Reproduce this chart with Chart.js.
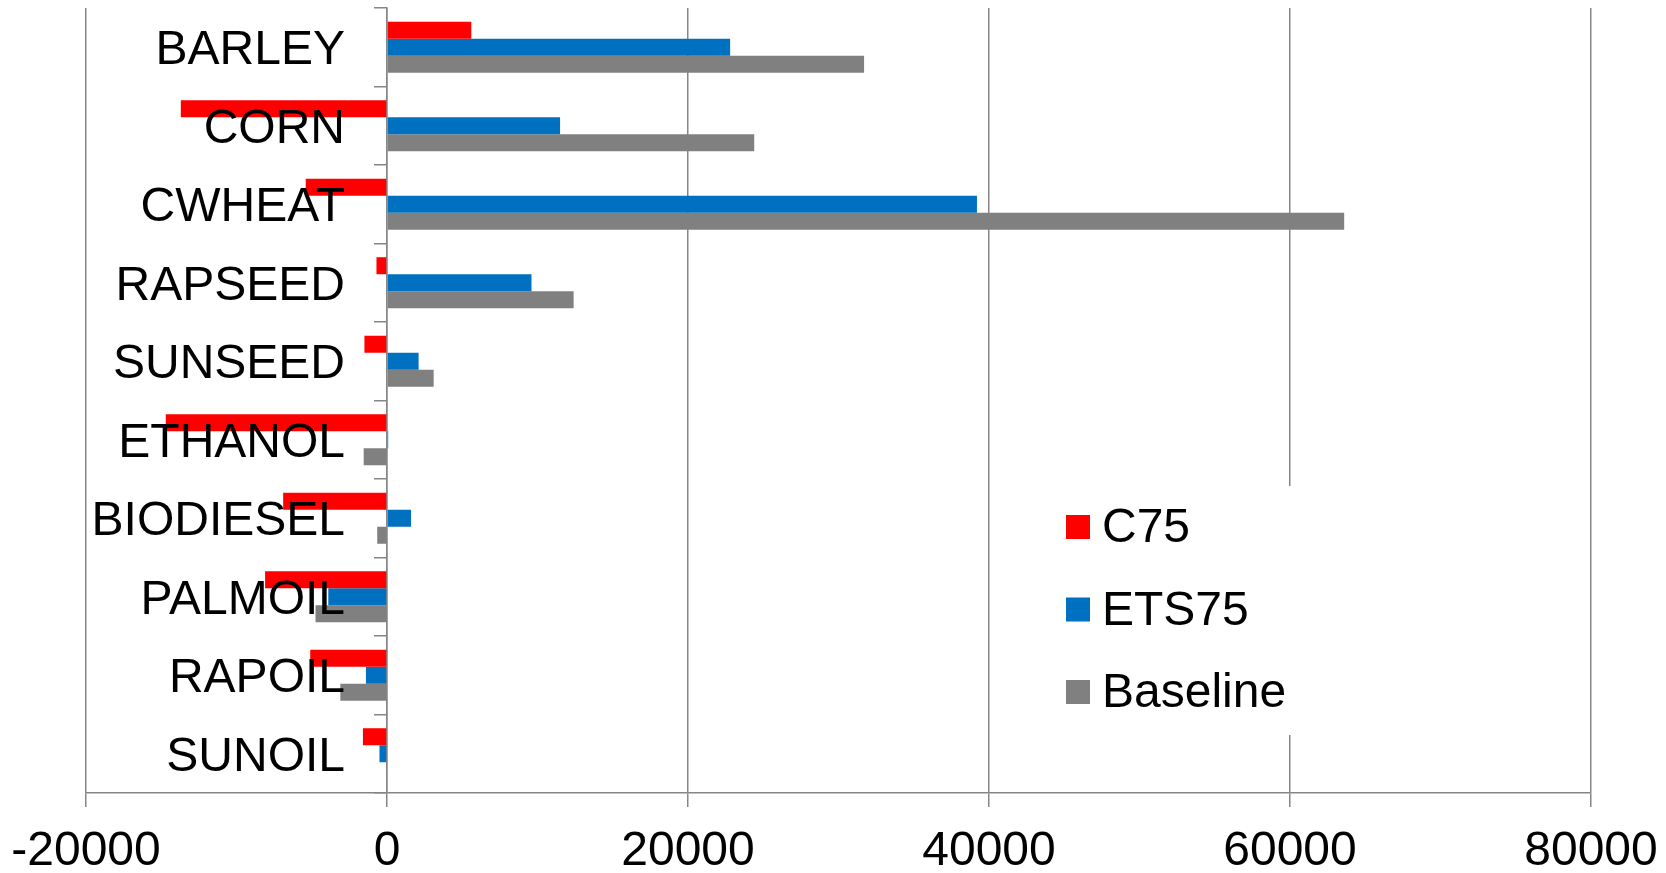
<!DOCTYPE html>
<html>
<head>
<meta charset="utf-8">
<script src="https://cdn.jsdelivr.net/npm/chart.js@4.4.1/dist/chart.umd.min.js"></script>
<style>
  html, body { margin: 0; padding: 0; background: #fff; }
  #wrap { width: 1666px; height: 873px; position: relative; }
</style>
</head>
<body>
<div id="wrap"><canvas id="cropChart"></canvas></div>
<script>
const categories = ['BARLEY', 'CORN', 'CWHEAT', 'RAPSEED', 'SUNSEED', 'ETHANOL', 'BIODIESEL', 'PALMOIL', 'RAPOIL', 'SUNOIL'];
const c75 = [5600, -13700, -5400, -700, -1500, -14700, -6900, -8100, -5100, -1600];
const ets75 = [22800, 11500, 39200, 9600, 2100, 80, 1600, -3900, -1400, -500];
const baseline = [31700, 24400, 63600, 12400, 3100, -1550, -650, -4750, -3100, 0];
const xTicks = [-20000, 0, 20000, 40000, 60000, 80000];

const FONT = { family: '"Liberation Sans", Arial, sans-serif', size: 48 };
const GRID = '#868686';

// category axis sits on x = 0 (Excel style), labels to its left
const axisAtZero = {
    id: 'axisAtZero',
    afterLayout(chart) {
        const y = chart.scales.y;
        const px = chart.scales.x.getPixelForValue(0);
        y.left = 0;
        y.right = px;
        y.width = px;
    }
};

// legend floats inside the plot, on a white box over the gridlines
const floatingLegend = {
    id: 'floatingLegend',
    afterDatasetsDraw(chart, args, opts) {
        const ctx = chart.ctx;
        ctx.save();
        ctx.fillStyle = '#fff';
        ctx.fillRect(opts.left, opts.top, opts.width, opts.height);
        ctx.font = FONT.size + 'px ' + FONT.family;
        ctx.textBaseline = 'middle';
        ctx.textAlign = 'left';
        chart.data.datasets.forEach((ds, i) => {
            const cy = opts.top + opts.firstRow + i * opts.rowGap;
            ctx.fillStyle = ds.backgroundColor;
            ctx.fillRect(opts.left + opts.boxX, cy - 12, 24, 24);
            ctx.fillStyle = '#000';
            ctx.fillText(ds.label, opts.left + opts.textX, cy + 2);
        });
        ctx.restore();
    }
};

function initializeChart() {
    const ctx = document.getElementById('cropChart').getContext('2d');
    new Chart(ctx, {
        type: 'bar',
        data: {
            labels: categories,
            datasets: [{
                label: 'C75',
                data: c75,
                backgroundColor: '#FF0000'
            }, {
                label: 'ETS75',
                data: ets75,
                backgroundColor: '#0070C0'
            }, {
                label: 'Baseline',
                data: baseline,
                backgroundColor: '#808080'
            }]
        },
        plugins: [axisAtZero, floatingLegend],
        options: {
            indexAxis: 'y',
            responsive: true,
            maintainAspectRatio: false,
            animation: false,
            categoryPercentage: 0.65,
            barPercentage: 1.0,
            layout: { padding: { left: 86, right: 75, top: 8, bottom: 0 } },
            plugins: {
                legend: { display: false },
                tooltip: { enabled: false },
                floatingLegend: {
                    left: 1050, top: 486, width: 250, height: 249,
                    boxX: 16, textX: 52, firstRow: 41, rowGap: 82.5
                }
            },
            scales: {
                x: {
                    min: xTicks[0],
                    max: xTicks[xTicks.length - 1],
                    afterBuildTicks: (scale) => {
                        scale.ticks = xTicks.map(v => ({ value: v }));
                    },
                    afterFit: (scale) => {
                        scale.height = 80;
                        scale.paddingLeft = 0;
                        scale.paddingRight = 0;
                    },
                    grid: { color: GRID, lineWidth: 1.5, tickLength: 14 },
                    border: { color: GRID, width: 1.5 },
                    ticks: {
                        font: FONT,
                        color: '#000',
                        padding: 16,
                        maxRotation: 0,
                        autoSkip: false,
                        callback: (v) => String(v)
                    }
                },
                y: {
                    position: 'left',
                    afterFit: (scale) => {
                        scale.width = 0;
                        scale.paddingTop = 0;
                        scale.paddingBottom = 0;
                    },
                    grid: { drawOnChartArea: false, tickLength: 13, color: GRID, lineWidth: 1.5 },
                    border: { color: GRID, width: 1.5 },
                    // z: 1 -> labels are painted over the bars, as in the original
                    ticks: { font: FONT, color: '#000', padding: 29, labelOffset: 4, autoSkip: false, z: 1 }
                }
            }
        }
    });
}

if (document.readyState === 'loading') {
    document.addEventListener('DOMContentLoaded', initializeChart);
} else {
    initializeChart();
}
</script>
</body>
</html>
